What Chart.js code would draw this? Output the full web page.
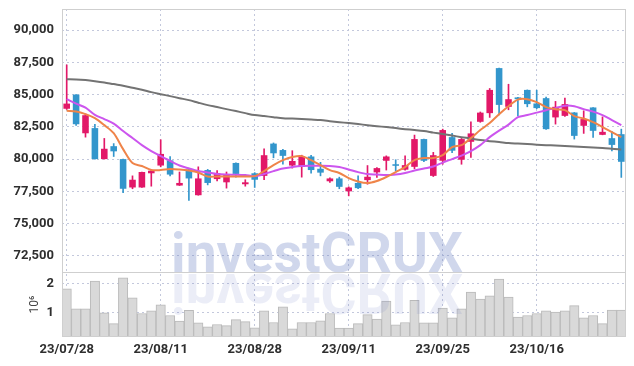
<!DOCTYPE html>
<html>
<head>
<meta charset="utf-8">
<script src="https://cdn.jsdelivr.net/npm/chart.js@4.4.0/dist/chart.umd.min.js"></script>
<style>
  html, body { margin: 0; padding: 0; background: #fff; }
  #wrap { width: 634px; height: 366px; }
</style>
</head>
<body>
<div id="wrap"><canvas id="chart" width="634" height="366"></canvas></div>
<script>
const dates = [
  '23/07/28', '23/07/31', '23/08/01', '23/08/02', '23/08/03', '23/08/04', '23/08/07', '23/08/08', '23/08/09', '23/08/10',
  '23/08/11', '23/08/14', '23/08/16', '23/08/17', '23/08/18', '23/08/21', '23/08/22', '23/08/23', '23/08/24', '23/08/25',
  '23/08/28', '23/08/29', '23/08/30', '23/08/31', '23/09/01', '23/09/04', '23/09/05', '23/09/06', '23/09/07', '23/09/08',
  '23/09/11', '23/09/12', '23/09/13', '23/09/14', '23/09/15', '23/09/18', '23/09/19', '23/09/20', '23/09/21', '23/09/22',
  '23/09/25', '23/09/26', '23/09/27', '23/10/04', '23/10/05', '23/10/06', '23/10/10', '23/10/11', '23/10/12', '23/10/13',
  '23/10/16', '23/10/17', '23/10/18', '23/10/19', '23/10/20', '23/10/23', '23/10/24', '23/10/25', '23/10/26', '23/10/27'
];

const opens = [
  83900, 85000, 82000, 82400, 80000, 81000, 80000, 77800, 77800, 78900,
  79500, 79900, 77950, 79200, 77200, 79150, 78450, 78200, 79700, 78050,
  78900, 78700, 81200, 80700, 79500, 79400, 80200, 79250, 78280, 78500,
  77500, 78150, 78370, 78970, 79870, 79600, 79180, 79400, 81550, 78700,
  79870, 81700, 79950, 81340, 82890, 83560, 87050, 84050, 84780, 85360,
  84310, 84720, 83230, 83350, 83610, 82580, 84000, 81880, 81620, 81930
];
const highs = [
  87300, 85000, 83500, 82700, 81600, 81200, 80000, 78700, 79000, 79200,
  81500, 80200, 79000, 79300, 79400, 79200, 79100, 79000, 79700, 78400,
  78950, 80800, 81250, 80750, 80650, 80300, 80300, 79750, 78550, 78600,
  77850, 78700, 79500, 79350, 80250, 79950, 80250, 81860, 81550, 80520,
  82320, 82000, 81600, 82890, 83650, 85470, 87050, 85800, 84780, 85360,
  85340, 84800, 84470, 84720, 83610, 83740, 84000, 83270, 82140, 82320
];
const lows = [
  83850, 82600, 81700, 80000, 80000, 80200, 77400, 77700, 77800, 77900,
  79400, 78700, 77950, 76800, 77200, 78000, 78300, 77750, 78600, 77900,
  77800, 78400, 80100, 79600, 79300, 78600, 78900, 78700, 78200, 77700,
  77150, 77700, 78050, 78580, 79150, 79100, 79150, 79250, 79800, 78650,
  79600, 80500, 79600, 80130, 82850, 83230, 83430, 83820, 83350, 84050,
  83900, 82300, 82710, 83300, 81550, 81990, 81680, 81880, 80640, 78580
];
const closes = [
  84300, 82700, 83400, 80000, 80800, 80600, 77700, 78400, 79000, 79100,
  80400, 78800, 78150, 78500, 78500, 78150, 78900, 78800, 78850, 78200,
  78400, 80300, 80450, 80250, 79850, 80200, 79150, 78950, 78500, 77850,
  77800, 77750, 78630, 79300, 80200, 79480, 79530, 81550, 79870, 80300,
  82250, 80650, 81550, 81990, 83600, 85360, 84200, 84640, 84640, 84260,
  83950, 82320, 84050, 84260, 81800, 83100, 82190, 82110, 81100, 79790
];
// volume in millions of shares
const volumes = [
  1.83, 1.14, 1.14, 2.10, 1.00, 0.63, 2.21, 1.52, 0.98, 1.07,
  1.28, 0.91, 0.72, 1.09, 0.66, 0.52, 0.60, 0.56, 0.77, 0.70,
  0.49, 1.07, 0.67, 1.21, 0.45, 0.67, 0.67, 0.73, 0.98, 0.48,
  0.48, 0.63, 0.94, 0.79, 1.41, 0.59, 0.67, 1.43, 0.66, 0.66,
  1.17, 0.83, 1.14, 1.72, 1.48, 1.59, 2.17, 1.55, 0.86, 0.91,
  0.98, 1.07, 1.03, 1.07, 1.25, 0.83, 0.91, 0.63, 1.10, 1.10
];
const ma5 = [
  83740, 83680, 83480, 83170, 82630, 82010, 80770, 79690, 79460, 79150,
  79150, 79230, 79190, 79110, 78960, 78650, 78650, 78650, 78650, 78650,
  78680, 79070, 79540, 79920, 80160, 80230, 79920, 79540, 79150, 78920,
  78530, 78260, 78140, 78300, 78610, 78990, 79380, 79920, 80080, 80080,
  80310, 80930, 81080, 81630, 82250, 82790, 83480, 84100, 84610, 84640,
  84410, 84030, 83870, 83790, 83330, 83140, 82860, 82480, 82090, 81700
];
const ma20 = [
  84640, 84300, 83980, 83420, 83100, 82750, 82170, 81630, 81080, 80620,
  80230, 79850, 79500, 79270, 79070, 78960, 78840, 78800, 78790, 78760,
  78680, 78840, 79070, 79270, 79380, 79460, 79480, 79480, 79460, 79380,
  79190, 78990, 78840, 78800, 78760, 78800, 78920, 79110, 79270, 79420,
  79730, 80000, 80270, 80620, 81080, 81700, 82210, 82670, 83250, 83410,
  83600, 83790, 83950, 84140, 84100, 83870, 83680, 83410, 83020, 82630
];
const ma60 = [
  86190, 86170, 86120, 86040, 85940, 85810, 85690, 85530, 85380, 85190,
  85030, 84880, 84720, 84570, 84370, 84180, 84030, 83870, 83720, 83560,
  83410, 83330, 83250, 83170, 83140, 83100, 83060, 83020, 82940, 82860,
  82790, 82710, 82630, 82550, 82480, 82400, 82320, 82250, 82170, 82050,
  81940, 81820, 81700, 81590, 81470, 81390, 81320, 81240, 81200, 81160,
  81120, 81080, 81050, 81010, 80970, 80930, 80890, 80850, 80810, 80740
];
const priceTicks = [72500, 75000, 77500, 80000, 82500, 85000, 87500, 90000];
const volumeTicks = [1, 2];

const UP = '#e21868';
const DOWN = '#3396cc';
const GRID = '#c3c8dc';
const LABEL = '#2e2e2e';

function candleColor(ctx) {
  const i = ctx.dataIndex;
  return closes[i] >= opens[i] ? UP : DOWN;
}

// frame around the plot and the divider between price and volume panels
const framePlugin = {
  id: 'frame',
  afterDraw(chart) {
    const { ctx, chartArea: a } = chart;
    const yb = Math.round(chart.scales.y.bottom) + 0.5;
    ctx.save();
    ctx.strokeStyle = '#cfcfcf';
    ctx.lineWidth = 1;
    ctx.strokeRect(Math.round(a.left) + 0.5, Math.round(a.top) + 0.5, Math.round(a.width) - 1, Math.round(a.height) - 1);
    ctx.beginPath();
    ctx.moveTo(a.left, yb);
    ctx.lineTo(a.right, yb);
    ctx.stroke();
    ctx.restore();
  }
};

const watermarkPlugin = {
  id: 'watermark',
  afterDatasetsDraw(chart) {
    const { ctx } = chart;
    const base = chart.scales.y.bottom;
    const cx = chart.width / 2;
    ctx.save();
    ctx.font = 'bold 55px Roboto';
    ctx.textAlign = 'center';
    ctx.textBaseline = 'alphabetic';
    ctx.fillStyle = 'rgba(110, 130, 195, 0.32)';
    ctx.fillText('investCRUX', cx, base);
    ctx.translate(0, 2 * base + 2);
    ctx.scale(1, -1);
    ctx.fillStyle = 'rgba(110, 130, 195, 0.14)';
    ctx.fillText('investCRUX', cx, base);
    ctx.restore();
  }
};

function fixAxis(s) {
  s.width = 62;
  s.paddingTop = 0;
  s.paddingBottom = 0;
}

Chart.defaults.font.family = 'Roboto';

new Chart(document.getElementById('chart'), {
  type: 'bar',
  data: {
    labels: dates,
    datasets: [
      {
        type: 'line', label: 'MA5', data: ma5, yAxisID: 'y', order: 0,
        borderColor: '#ef8449', borderWidth: 2, pointRadius: 0, tension: 0.3
      },
      {
        type: 'line', label: 'MA20', data: ma20, yAxisID: 'y', order: 1,
        borderColor: '#cc55ee', borderWidth: 2, pointRadius: 0, tension: 0.3
      },
      {
        type: 'line', label: 'MA60', data: ma60, yAxisID: 'y', order: 2,
        borderColor: '#737373', borderWidth: 2, pointRadius: 0, tension: 0.3
      },
      {
        label: 'body', data: opens.map((o, i) => [o, closes[i]]), yAxisID: 'y', order: 3,
        backgroundColor: candleColor, borderWidth: 0, grouped: false,
        barPercentage: 0.7, categoryPercentage: 1
      },
      {
        label: 'wick', data: lows.map((l, i) => [l, highs[i]]), yAxisID: 'y', order: 4,
        backgroundColor: candleColor, borderWidth: 0, grouped: false, barThickness: 1
      },
      {
        label: 'volume', data: volumes, yAxisID: 'yv', order: 5,
        backgroundColor: '#d9d9d9', borderColor: '#b9b9b9', borderWidth: 1,
        grouped: false, barPercentage: 1, categoryPercentage: 1
      }
    ]
  },
  options: {
    responsive: false,
    animation: false,
    layout: { padding: { top: 9, right: 8, left: 0, bottom: 0 } },
    plugins: { legend: { display: false }, tooltip: { enabled: false } },
    scales: {
      x: {
        type: 'category',
        offset: true,
        grid: {
          offset: false,
          drawTicks: false,
          color: ctx => (ctx.index % 10 === 0 ? GRID : 'rgba(0,0,0,0)')
        },
        border: { display: false, dash: [2, 3] },
        ticks: {
          autoSkip: false, maxRotation: 0, padding: 5,
          color: LABEL, font: { size: 13, weight: 'bold' },
          callback: (v, i) => (i % 10 === 0 ? dates[i] : '')
        },
        afterFit: s => { s.height = 29; s.paddingLeft = 0; s.paddingRight = 0; }
      },
      yv: {
        type: 'linear', position: 'left', stack: 'panels', stackWeight: 65,
        min: 0.17, max: 2.41,
        grid: { color: GRID, drawTicks: false },
        border: { display: false, dash: [2, 3] },
        ticks: {
          stepSize: 1, padding: 8, color: LABEL, font: { size: 13, weight: 'bold' },
          callback: v => String(v)
        },
        afterBuildTicks: s => { s.ticks = volumeTicks.map(v => ({ value: v })); },
        title: { display: true, text: '10⁶', color: '#444', font: { size: 12 }, padding: { top: 28, bottom: 0 } },
        afterFit: fixAxis
      },
      y: {
        type: 'linear', position: 'left', stack: 'panels', stackWeight: 263,
        min: 71250, max: 91630,
        grid: { color: GRID, drawTicks: false },
        border: { display: false, dash: [2, 3] },
        ticks: {
          stepSize: 2500, padding: 8, color: LABEL, font: { size: 13, weight: 'bold' },
          callback: v => v.toLocaleString('en-US')
        },
        afterBuildTicks: s => { s.ticks = priceTicks.map(v => ({ value: v })); },
        afterFit: fixAxis
      }
    }
  },
  plugins: [framePlugin, watermarkPlugin]
});
</script>
</body>
</html>
